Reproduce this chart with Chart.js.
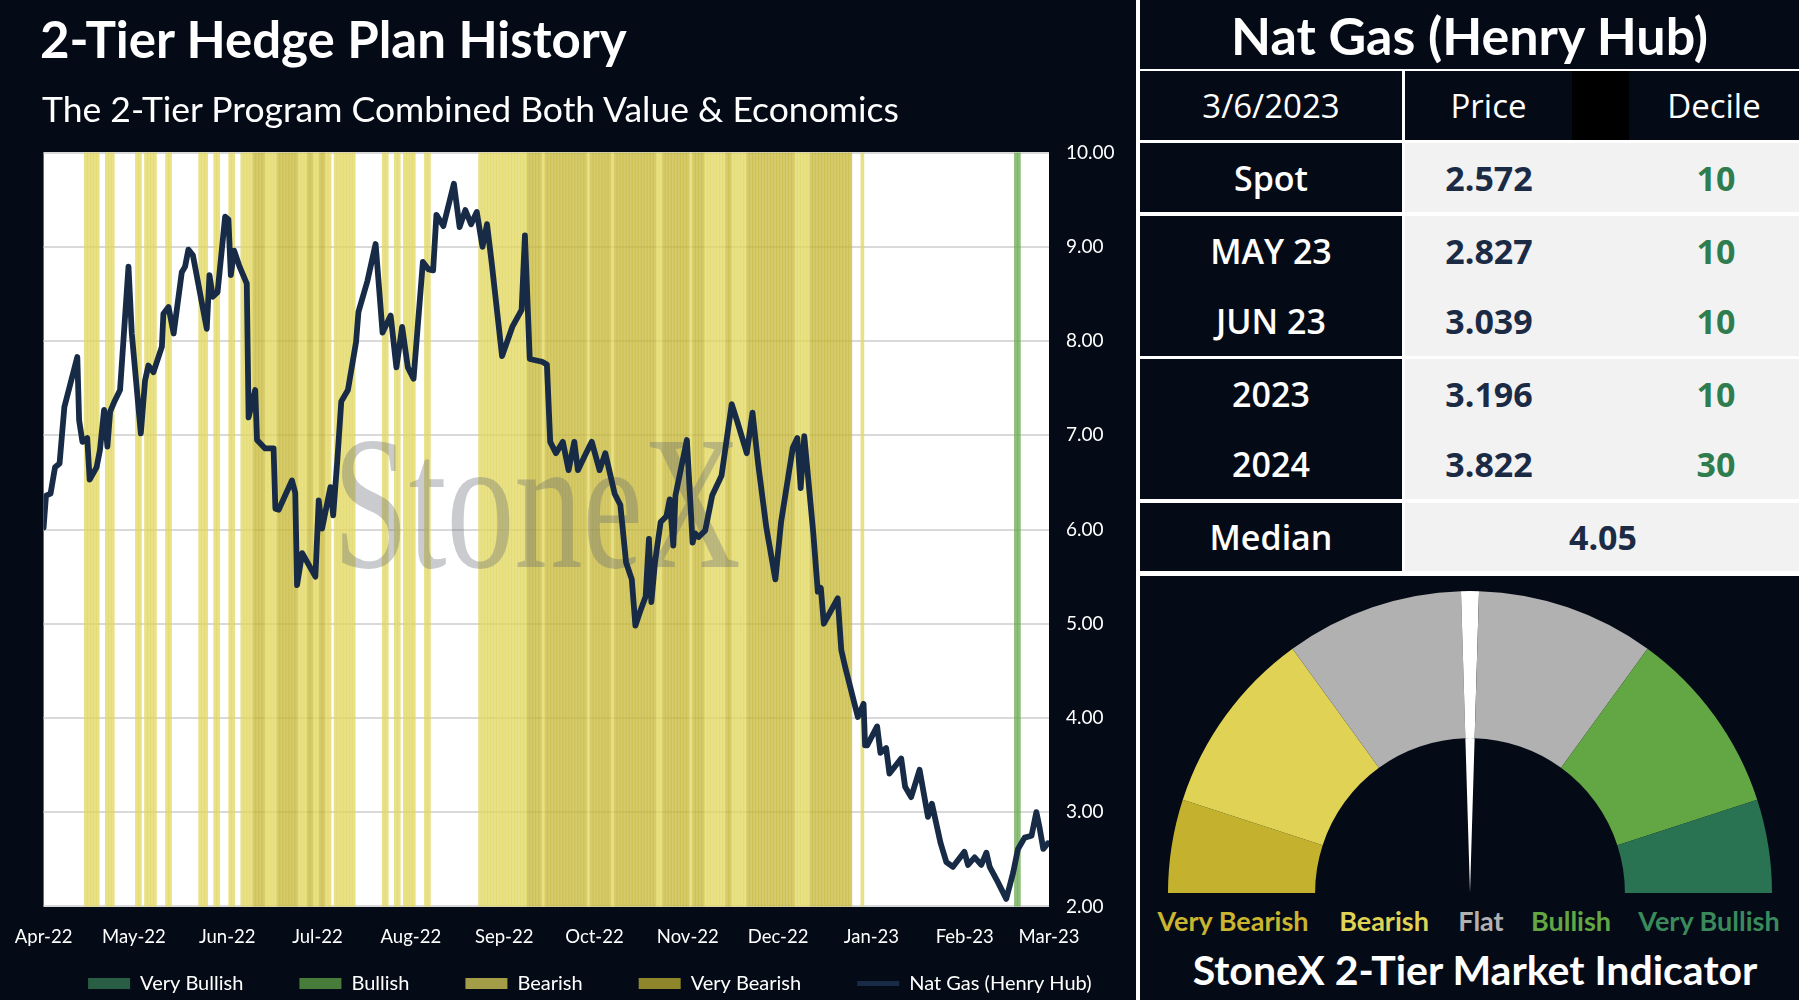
<!DOCTYPE html>
<html>
<head>
<meta charset="utf-8">
<script src="https://cdn.jsdelivr.net/npm/chart.js@4.4.1/dist/chart.umd.min.js"></script>
<style>
  html, body { margin: 0; padding: 0; background: #050b16; }
  body { width: 1799px; height: 1000px; position: relative; overflow: hidden; font-family: Lato, "Open Sans", sans-serif; color: #fff; }
  .txt { position: absolute; white-space: nowrap; }
  .cell { position: absolute; display: flex; align-items: center; justify-content: center; background: #050b16; color: #fff; white-space: nowrap; }
  .grey { background: #f2f2f2; }
  .val { position: absolute; transform: translate(-50%, -50%); white-space: nowrap; font: 700 34px "Open Sans", sans-serif; }
  canvas { position: absolute; }
</style>
</head>
<body>
<canvas id="hedgeChart" width="1136" height="1000" style="left:0;top:0"></canvas>
<div class="txt" style="left:40px;top:10px;font:700 51px Lato;line-height:58px">2-Tier Hedge Plan History</div>
<div class="txt" style="left:42px;top:87px;font:400 35.5px Lato;line-height:44px">The 2-Tier Program Combined Both Value &amp; Economics</div>

<div style="position:absolute;left:1136px;top:0;width:663px;height:576px;background:#fff"></div>
<div style="position:absolute;left:1136px;top:0;width:4px;height:1000px;background:#fff"></div>
<div id="panel"></div>
<canvas id="gaugeChart" width="604" height="302" style="left:1168px;top:591px"></canvas>

<script>
// price history (day offset from 1 Apr 2022, $/MMBtu)
const priceDays = [0, 0.8, 2.3, 3.8, 5.3, 6.9, 11.2, 11.8, 12.9, 14.5, 15.3, 17.6, 18.7, 20.1, 21.2, 22.1, 23.7, 25.4, 28.2, 29.3,
  32.3, 33.7, 34.8, 36.5, 39.3, 39.8, 41.5, 43.2, 45.9, 47, 48.1, 49.6, 54.2, 55.1, 56.2, 57.8, 60.3, 61.4, 62.2, 63.3,
  65.1, 67.5, 68.1, 70.3, 70.9, 73.6, 76.4, 77, 78.1, 82.5, 83.6, 84.2, 85.9, 90.3, 91.4, 92.5, 95.3, 96.2, 97.5, 98.9,
  101.1, 103.8, 104.6, 107.6, 110.3, 112.6, 115.3, 117.2, 119.1, 121, 122.9, 126, 127.9, 129.4, 130.5, 132.8, 136.3, 138.2, 140.1, 142,
  143.9, 145.8, 147.3, 148.9, 152.3, 155.7, 158.8, 159.9, 161.5, 165.6, 167.2, 168.3, 170.2, 172.5, 174.4, 176.3, 177.5, 180.2, 182.1, 184.7,
  186.6, 189.7, 191.6, 193.5, 195.4, 196.6, 198.5, 200, 201.1, 201.9, 203.1, 205, 206.9, 208, 209.2, 209.9, 213.7, 215.6, 216.4, 217.6,
  219.8, 222.1, 225.2, 228.6, 230.5, 233.6, 235.5, 237.4, 240.1, 243.1, 245, 248.9, 250.4, 251.5, 252.7, 255.7, 257.2, 258.2, 259.2, 263.8,
  265, 266.3, 270.5, 272.4, 272.9, 273.6, 276.9, 278, 279.9, 281, 284.9, 286.2, 288.2, 291, 293.8, 295.1, 298, 299.9, 302.1, 305.9,
  307.1, 309.3, 311.5, 313.2, 314.3, 316.8, 319.8, 322.1, 323.7, 325.9, 328.2, 329.8, 330.9, 332.1, 333.6];
const priceValues = [6.02, 6.36, 6.38, 6.66, 6.70, 7.30, 7.83, 7.16, 6.93, 6.97, 6.53, 6.66, 6.84, 7.27, 6.88, 7.25, 7.37, 7.48, 8.79, 8.08,
  7.02, 7.58, 7.74, 7.67, 7.94, 8.29, 8.36, 8.08, 8.73, 8.79, 8.97, 8.91, 8.13, 8.70, 8.47, 8.52, 9.32, 9.29, 8.70, 8.96,
  8.79, 8.61, 7.19, 7.48, 6.95, 6.86, 6.86, 6.22, 6.21, 6.52, 6.39, 5.41, 5.75, 5.50, 6.31, 6.01, 6.45, 6.15, 6.70, 7.36,
  7.48, 7.99, 8.31, 8.64, 9.03, 8.09, 8.27, 7.72, 8.15, 7.72, 7.60, 8.84, 8.76, 8.75, 9.34, 9.22, 9.67, 9.21, 9.39, 9.24,
  9.37, 9.00, 9.24, 8.82, 7.84, 8.15, 8.33, 9.12, 7.81, 7.78, 7.75, 6.93, 6.81, 6.93, 6.63, 6.93, 6.63, 6.81, 6.93, 6.63,
  6.81, 6.38, 6.26, 5.65, 5.47, 4.98, 5.16, 5.29, 5.90, 5.23, 5.65, 6.08, 6.14, 6.32, 5.83, 6.36, 6.95, 5.86, 5.96, 5.92,
  5.99, 6.36, 6.57, 7.33, 7.14, 6.81, 7.24, 6.69, 6.02, 5.47, 6.08, 6.87, 6.97, 6.44, 6.99, 5.96, 5.34, 5.38, 5.00, 5.27,
  4.72, 4.54, 4.01, 4.15, 3.71, 3.71, 3.91, 3.63, 3.68, 3.41, 3.57, 3.27, 3.16, 3.45, 2.95, 3.09, 2.67, 2.47, 2.42, 2.58,
  2.44, 2.52, 2.44, 2.57, 2.42, 2.27, 2.08, 2.36, 2.61, 2.73, 2.75, 3.00, 2.83, 2.61, 2.67];

// indicator days, [first, last] day offsets
const veryBullishDays = [];
const bullishDays = [[323, 324]];
const bearishDays = [[14, 18], [21, 23], [31, 32], [34, 37], [41, 42], [52, 54], [57, 58], [62, 63], [66, 69], [74, 77],
  [85, 87], [90, 91], [94, 95], [97, 103], [113, 114], [117, 118], [120, 123], [127, 128], [145, 160], [166, 166],
  [181, 181], [189, 189], [204, 205], [215, 215], [220, 226], [229, 233], [250, 254], [272, 272]];
const veryBearishDays = [[70, 73], [78, 84], [88, 89], [92, 93], [161, 165], [167, 180], [182, 188], [190, 203],
  [206, 214], [216, 219], [227, 228], [234, 249], [255, 268]];

const monthDays = [0, 30, 61, 91, 122, 153, 183, 214, 244, 275, 306, 334];
const monthLabels = ['Apr-22', 'May-22', 'Jun-22', 'Jul-22', 'Aug-22', 'Sep-22', 'Oct-22', 'Nov-22', 'Dec-22', 'Jan-23', 'Feb-23', 'Mar-23'];
const priceTicks = [2, 3, 4, 5, 6, 7, 8, 9, 10];

// table
const asOfDate = '3/6/2023';
const contractLabels = ['Spot', 'MAY 23', 'JUN 23', '2023', '2024'];
const contractPrices = ['2.572', '2.827', '3.039', '3.196', '3.822'];
const contractDeciles = [10, 10, 10, 10, 30];
const medianPrice = '4.05';

// gauge
const gaugeLabels = ['Very Bearish', 'Bearish', 'Flat', 'Bullish', 'Very Bullish'];
const gaugeZones = [10, 20, 40, 20, 10];
const gaugeColors = ['#c4b22f', '#dfd254', '#b1b1b1', '#62a744', '#2a7352'];
const gaugeLabelColors = ['#c9b52f', '#dfd254', '#b1b1b1', '#62a744', '#3a8a5c'];
const needleValue = 50;
const needleWidth = 1.9;

Chart.defaults.font.family = "Lato, 'Open Sans', sans-serif";

const bandTop = priceTicks[priceTicks.length - 1];
function bandPoints(ranges) {
  const pts = [];
  ranges.forEach(([a, b]) => {
    for (let d = a; d <= b; d++) pts.push({ x: d, y: bandTop });
  });
  return pts;
}

const bandStyle = { type: 'bar', grouped: false, barPercentage: 1, categoryPercentage: 1, borderWidth: 0, order: 1 };
const legendOrder = [
  { text: 'Very Bullish', color: 'rgba(56,126,88,0.72)' },
  { text: 'Bullish', color: 'rgba(98,168,72,0.72)' },
  { text: 'Bearish', color: 'rgba(224,213,90,0.72)' },
  { text: 'Very Bearish', color: 'rgba(197,181,51,0.72)' },
  { text: 'Nat Gas (Henry Hub)', color: '#182b46', line: true }
];
const legendGap = '\u00a0'.repeat(9);

const plotArea = {
  id: 'plotArea',
  beforeDraw(chart) {
    const { ctx, chartArea: a } = chart;
    ctx.save();
    ctx.fillStyle = '#ffffff';
    ctx.fillRect(a.left, a.top, a.right - a.left, a.bottom - a.top);
    ctx.restore();
  },
  beforeDatasetDraw(chart, args) {
    if (args.meta.type !== 'line') return;
    const { ctx, chartArea: a } = chart;
    ctx.save();
    ctx.beginPath();
    ctx.rect(a.left, a.top, a.right - a.left, a.bottom - a.top);
    ctx.clip();
    ctx.translate(537, 567);
    ctx.scale(1, 1.4);
    ctx.font = "136px 'Liberation Serif', 'DejaVu Serif', serif";
    ctx.textAlign = 'center';
    ctx.textBaseline = 'alphabetic';
    ctx.fillStyle = 'rgba(100,105,115,0.35)';
    ctx.fillText('StoneX', 0, 0);
    ctx.restore();
  }
};

new Chart(document.getElementById('hedgeChart'), {
  type: 'bar',
  data: {
    datasets: [
      {
        type: 'line', label: 'Nat Gas (Henry Hub)',
        data: priceDays.map((d, i) => ({ x: d, y: priceValues[i] })),
        borderColor: '#182b46', borderWidth: 5.8, pointRadius: 0, tension: 0,
        borderJoinStyle: 'round', borderCapStyle: 'round', order: 0
      },
      { ...bandStyle, label: 'Very Bullish', data: bandPoints(veryBullishDays), backgroundColor: legendOrder[0].color },
      { ...bandStyle, label: 'Bullish', data: bandPoints(bullishDays), backgroundColor: legendOrder[1].color },
      { ...bandStyle, label: 'Bearish', data: bandPoints(bearishDays), backgroundColor: legendOrder[2].color },
      { ...bandStyle, label: 'Very Bearish', data: bandPoints(veryBearishDays), backgroundColor: legendOrder[3].color }
    ]
  },
  options: {
    responsive: false,
    animation: false,
    layout: { padding: { left: 43.6, top: 152.6, right: 0, bottom: -3.5 } },
    scales: {
      x: {
        type: 'linear', min: monthDays[0], max: monthDays[monthDays.length - 1], offset: false,
        grid: { display: false, drawTicks: true, tickLength: 16 },
        border: { display: false },
        afterBuildTicks: (scale) => { scale.ticks = monthDays.map(v => ({ value: v })); },
        afterFit: (scale) => { scale.height = 57.1; },
        ticks: {
          autoSkip: false, maxRotation: 0, padding: 4, color: '#ffffff', font: { size: 18.5 },
          callback: (v) => monthLabels[monthDays.indexOf(v)]
        }
      },
      y: {
        position: 'right', min: priceTicks[0], max: bandTop, beginAtZero: false,
        afterBuildTicks: (scale) => { scale.ticks = priceTicks.map(v => ({ value: v })); },
        afterFit: (scale) => { scale.width = 87; },
        grid: { color: '#d9d9d9', lineWidth: 2, drawTicks: false },
        border: { display: false },
        ticks: { padding: 17, color: '#ffffff', font: { size: 19 }, callback: (v) => v.toFixed(2) }
      }
    },
    plugins: {
      tooltip: { enabled: false },
      legend: {
        position: 'bottom',
        labels: {
          color: '#ffffff', font: { size: 20 }, padding: 10,
          usePointStyle: true, pointStyleWidth: 42, boxHeight: 11,
          generateLabels: () => legendOrder.map((item, i) => ({
            text: i < legendOrder.length - 1 ? item.text + legendGap : item.text,
            fillStyle: item.line ? 'rgba(0,0,0,0)' : item.color,
            strokeStyle: item.color,
            lineWidth: item.line ? 5 : 0,
            pointStyle: item.line ? 'line' : 'rect',
            fontColor: '#ffffff',
            hidden: false
          }))
        }
      }
    }
  },
  plugins: [plotArea]
});

// right-hand table
const panel = document.getElementById('panel');
function cell(left, top, width, height, html, style, cls) {
  const d = document.createElement('div');
  d.className = 'cell ' + (cls || '');
  d.style.cssText = `left:${left}px;top:${top}px;width:${width}px;height:${height}px;${style || ''}`;
  d.innerHTML = html;
  panel.appendChild(d);
  return d;
}
function value(x, y, text, color) {
  const d = document.createElement('div');
  d.className = 'val';
  d.style.cssText = `left:${x}px;top:${y}px;color:${color}`;
  d.textContent = text;
  panel.appendChild(d);
}
cell(1140, 0, 659, 69, 'Nat Gas (Henry Hub)', 'font:700 52px Lato');
const headFont = "font:400 33px 'Open Sans', sans-serif";
cell(1140, 71, 262, 69, asOfDate, headFont);
cell(1405, 71, 167, 69, 'Price', headFont);
cell(1572, 71, 57, 69, '', 'background:#000');
cell(1629, 71, 170, 69, 'Decile', headFont);

const rowFont = "font:600 34px 'Open Sans', sans-serif";
const groups = [[143, 212, [0]], [216, 356, [1, 2]], [359, 499, [3, 4]]];
groups.forEach(([top, bottom, rows]) => {
  cell(1140, top, 262, bottom - top, '', '');
  cell(1405, top, 394, bottom - top, '', '', 'grey');
  const h = (bottom - top) / rows.length;
  rows.forEach((r, k) => {
    const y = top + h * (k + 0.5);
    cell(1140, y - 30, 262, 60, contractLabels[r], rowFont + ';background:transparent');
    value(1489, y, contractPrices[r], '#1c2b45');
    value(1716, y, String(contractDeciles[r]), '#2f7d4e');
  });
});
cell(1140, 503, 262, 68, 'Median', rowFont);
cell(1405, 503, 394, 68, '', '', 'grey');
value(1603, 537, medianPrice, '#1c2b45');
cell(1140, 576, 659, 424, '', '');

// gauge labels and caption
const labelX = [1233, 1384, 1481, 1571, 1709];
gaugeLabels.forEach((t, i) => {
  const d = document.createElement('div');
  d.className = 'val';
  d.style.cssText = `left:${labelX[i]}px;top:920px;color:${gaugeLabelColors[i]};font:700 27px Lato`;
  d.textContent = t;
  document.body.appendChild(d);
});
const cap = document.createElement('div');
cap.className = 'val';
cap.style.cssText = 'left:1475px;top:969px;color:#fff;font:700 41px Lato';
cap.textContent = 'StoneX 2-Tier Market Indicator';
document.body.appendChild(cap);

// gauge: ring split at the needle, plus the inner part of the needle
const ringData = [], ringColors = [];
let acc = 0;
gaugeZones.forEach((z, i) => {
  const lo = needleValue - needleWidth / 2, hi = needleValue + needleWidth / 2;
  if (lo >= acc && hi <= acc + z) {
    ringData.push(lo - acc, needleWidth, acc + z - hi);
    ringColors.push(gaugeColors[i], '#ffffff', gaugeColors[i]);
  } else {
    ringData.push(z);
    ringColors.push(gaugeColors[i]);
  }
  acc += z;
});
const total = gaugeZones.reduce((s, v) => s + v, 0);

new Chart(document.getElementById('gaugeChart'), {
  type: 'doughnut',
  data: {
    datasets: [
      { data: ringData, backgroundColor: ringColors, borderWidth: 0, weight: 0.487 },
      {
        data: [needleValue - needleWidth / 2, needleWidth, total - needleValue - needleWidth / 2],
        backgroundColor: ['rgba(0,0,0,0)', '#ffffff', 'rgba(0,0,0,0)'], borderWidth: 0, weight: 0.513
      }
    ]
  },
  options: {
    responsive: false,
    animation: false,
    rotation: -90,
    circumference: 180,
    cutout: 0,
    layout: { padding: 0 },
    plugins: { legend: { display: false }, tooltip: { enabled: false } }
  }
});
</script>
</body>
</html>
